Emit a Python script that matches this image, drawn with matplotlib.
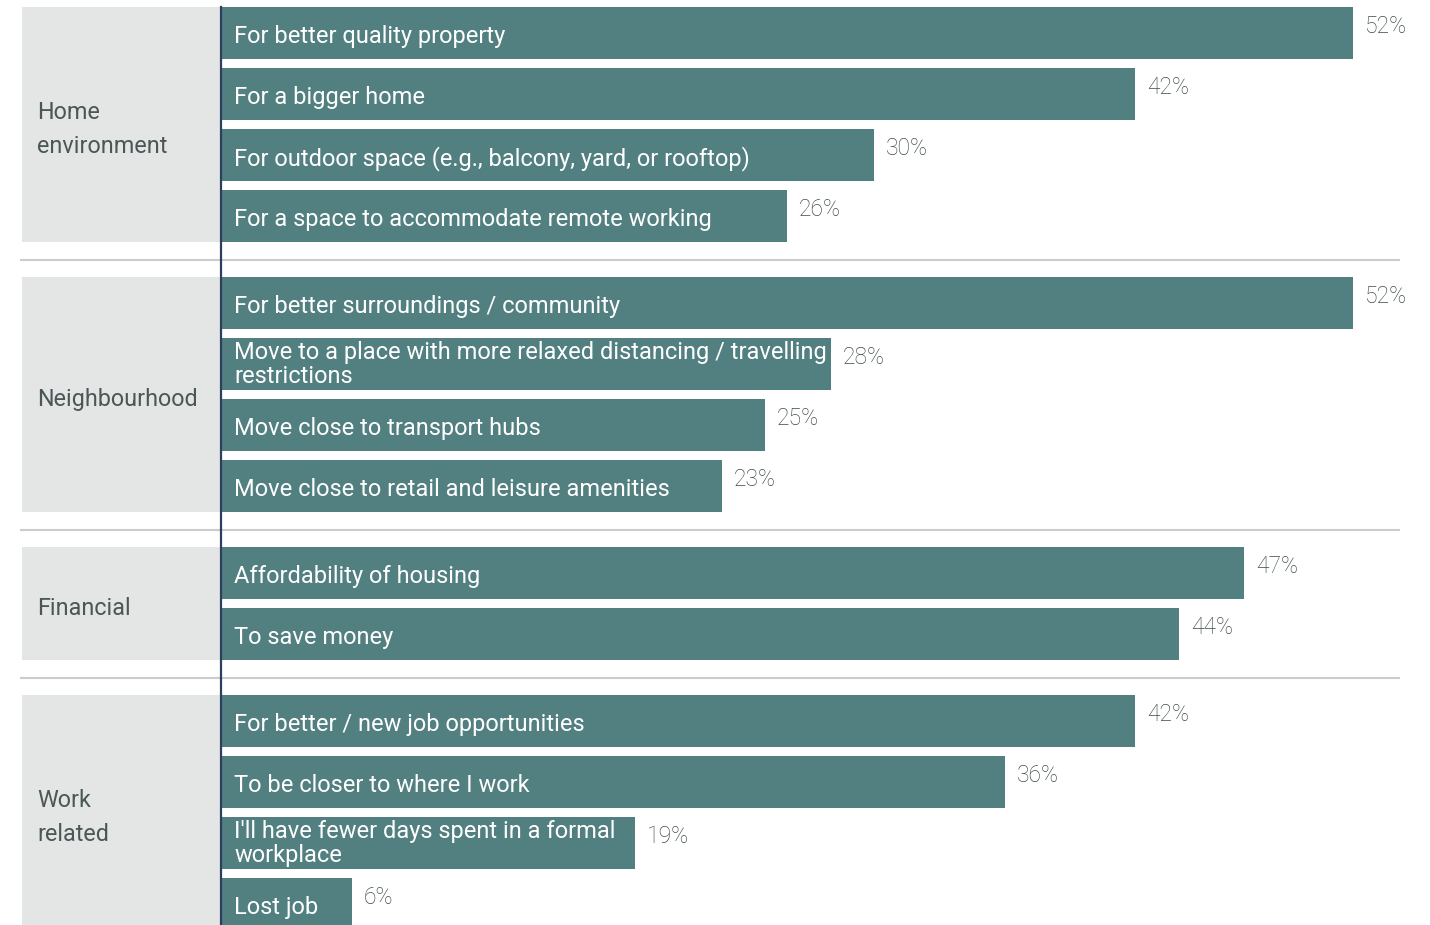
import matplotlib
matplotlib.use("Agg")
import matplotlib.pyplot as plt
from matplotlib.patches import Rectangle

plt.rcParams['font.family'] = ['Roboto', 'DejaVu Sans']

groups = ['Home\nenvironment', 'Neighbourhood', 'Financial', 'Work\nrelated']
group_sizes = [4, 4, 2, 4]
labels = [
    'For better quality property',
    'For a bigger home',
    'For outdoor space (e.g., balcony, yard, or rooftop)',
    'For a space to accommodate remote working',
    'For better surroundings / community',
    'Move to a place with more relaxed distancing / travelling\nrestrictions',
    'Move close to transport hubs',
    'Move close to retail and leisure amenities',
    'Affordability of housing',
    'To save money',
    'For better / new job opportunities',
    'To be closer to where I work',
    "I'll have fewer days spent in a formal\nworkplace",
    'Lost job',
]
values = [52, 42, 30, 26, 52, 28, 25, 23, 47, 44, 42, 36, 19, 6]

BAR = '#527f80'
BOX = '#e4e5e5'
AXIS = '#2b3f5f'
SEP = '#cccccc'
CAT_TXT = '#4b5656'
PCT_TXT = '#3f4a4b'

W, H = 1430, 925
ppp = 21.77          # pixels per percentage point
x0 = 221             # pixel column of the value axis
bar_h = 52
pitch = 61
gap = 35
top0 = 7

fig = plt.figure(figsize=(W / 100, H / 100), dpi=100)
ax = fig.add_axes([0, 0, 1, 1])
ax.set_xlim(-x0 / ppp, (W - x0) / ppp)
ax.set_ylim(H, 0)
ax.axis('off')


def px(x):
    return (x - x0) / ppp


# bar top positions, with a wider gap between groups
tops = []
group_spans = []
y = top0
for n in group_sizes:
    start = y
    for _ in range(n):
        tops.append(y)
        y += pitch
    end = y - pitch + bar_h
    group_spans.append((start, end))
    y = end + gap

for (g0, g1), name in zip(group_spans, groups):
    ax.add_patch(Rectangle((px(22), g0), px(220) - px(22), g1 - g0,
                           color=BOX, lw=0, zorder=1))
    ax.text(px(37), (g0 + g1) / 2 + 5, name, ha='left', va='center',
            fontsize=16.8, color=CAT_TXT, linespacing=1.6)

for (_, g1), (g0n, _) in zip(group_spans[:-1], group_spans[1:]):
    ax.plot([px(20), px(1400)], [(g1 + g0n) / 2] * 2, color=SEP, lw=1.5,
            zorder=1, solid_capstyle='butt')

ax.barh([t + bar_h / 2 for t in tops], values, height=bar_h, color=BAR,
        lw=0, zorder=2)

for t, v, lab in zip(tops, values, labels):
    base = t + (45 if '\n' in lab else 36)
    ax.annotate(lab, (0, base), xytext=(13, 0),
                textcoords='offset pixels', ha='left', va='baseline',
                fontsize=17, color='white', linespacing=1.07, zorder=3)
    ax.annotate(f'{v}%', (v, t + 26), xytext=(12, 0),
                textcoords='offset pixels', ha='left', va='baseline',
                fontsize=16.5, color=PCT_TXT, fontweight='light', zorder=3)

ax.plot([0, 0], [top0, H], color=AXIS, lw=1.6, zorder=4)

fig.savefig('out.png', dpi=100)
